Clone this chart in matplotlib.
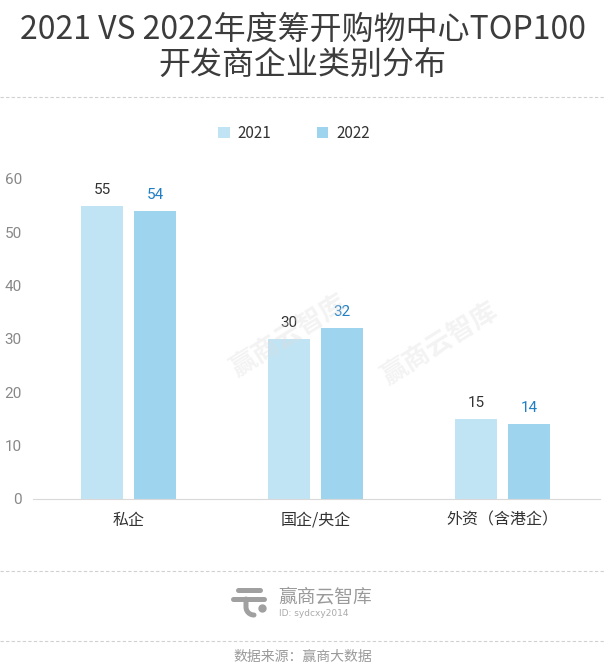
import matplotlib.pyplot as plt
import numpy as np
from matplotlib.lines import Line2D

plt.rcParams['font.family'] = ['Noto Sans CJK SC', 'DejaVu Sans']

categories = ['私企', '国企/央企', '外资（含港企）']
years = ['2021', '2022']
values_2021 = [55, 30, 15]
values_2022 = [54, 32, 14]
yticks = [0, 10, 20, 30, 40, 50, 60]

c2021 = '#c1e4f4'
c2022 = '#9fd4ef'

fig = plt.figure(figsize=(6.05, 6.72), dpi=100)
W, H = 605, 672

def fx(px):
    return px / W

def fy(py):
    return 1 - py / H

# title
fig.text(0.5, fy(30), '2021 VS 2022年度筹开购物中心TOP100', ha='center', va='center',
         fontsize=23, color='#3c3c3c', fontweight='medium')
fig.text(0.5, fy(66), '开发商企业类别分布', ha='center', va='center',
         fontsize=23, color='#3c3c3c', fontweight='medium')

# dashed separators
for py in [97, 571, 641]:
    fig.add_artist(Line2D([0, 1], [fy(py), fy(py)], color='#d0d0d0', lw=0.8,
                          linestyle=(0, (3, 2))))

# axes
ax = fig.add_axes([fx(33), fy(499), fx(600) - fx(33), fy(179) - fy(499)])
x = np.arange(len(categories))
w = 0.225
off = 0.1417
b1 = ax.bar(x - off, values_2021, width=w, color=c2021, label=years[0])
b2 = ax.bar(x + off, values_2022, width=w, color=c2022, label=years[1])
for rect, v in zip(b1, values_2021):
    ax.text(rect.get_x() + rect.get_width() / 2, v + 1.7, str(v), ha='center', va='bottom',
            fontsize=11, color='#333333', family='Roboto')
for rect, v in zip(b2, values_2022):
    ax.text(rect.get_x() + rect.get_width() / 2, v + 1.7, str(v), ha='center', va='bottom',
            fontsize=11, color='#1f7fc4', family='Roboto')

ax.set_xlim(-0.511, 2.521)
ax.set_ylim(0, 60)
ax.set_yticks(yticks)
ax.set_xticks(x)
ax.set_xticklabels(categories, fontsize=11.5, color='#333333')
for s in ['top', 'right', 'left']:
    ax.spines[s].set_visible(False)
ax.spines['bottom'].set_color('#d9d9d9')
ax.tick_params(axis='y', length=0, labelsize=11, labelcolor='#888888', pad=8)
ax.tick_params(axis='x', length=0, pad=9)
for lab in ax.get_yticklabels():
    lab.set_family('Roboto')
ax.set_facecolor('none')

leg = fig.legend(handles=[b1, b2], labels=years, loc='center', bbox_to_anchor=(fx(294), fy(133)),
                 ncol=2, frameon=False, fontsize=11, handlelength=0.75, handleheight=0.75,
                 columnspacing=3.0, handletextpad=0.5)
for t in leg.get_texts():
    t.set_color('#333333')

# watermarks
for cx, cy in [(289, 337), (440, 345)]:
    fig.text(fx(cx), fy(cy), '赢商云智库', rotation=32, ha='center', va='center',
             fontsize=19, color='#dddddd', alpha=0.35, fontweight='bold', zorder=5)

# footer logo
lc = '#a0a0a0'
fig.add_artist(Line2D([fx(238), fx(260)], [fy(590), fy(590)], color=lc, lw=3.6,
                      solid_capstyle='round'))
fig.add_artist(Line2D([fx(233), fx(264)], [fy(599), fy(599)], color=lc, lw=3.6,
                      solid_capstyle='round'))
tt = np.linspace(np.pi, 1.5 * np.pi, 20)
hx = np.concatenate([[246], 254 + 8 * np.cos(tt)])
hy = np.concatenate([[599], 607 - 8 * np.sin(tt)])
fig.add_artist(Line2D(fx(hx), fy(hy), color=lc, lw=3.6, solid_capstyle='round'))
fig.add_artist(Line2D([fx(262)], [fy(608)], marker='o', markersize=5, color=lc, lw=0))
fig.text(fx(278), fy(597), '赢商云智库', ha='left', va='center', fontsize=13.5, color='#9a9a9a')
fig.text(fx(279), fy(614), 'ID: sydcxy2014', ha='left', va='center', fontsize=6.5,
         color='#aaaaaa', family='DejaVu Sans')

fig.text(0.5, fy(657), '数据来源：赢商大数据', ha='center', va='center', fontsize=10,
         color='#9a9a9a')

fig.savefig('out.png', dpi=100, facecolor='white')
